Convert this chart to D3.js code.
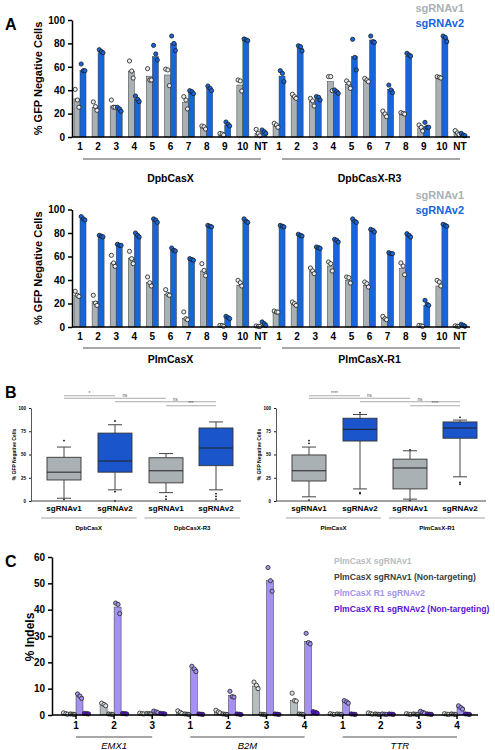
<!DOCTYPE html>
<html><head><meta charset="utf-8">
<script src="https://cdn.jsdelivr.net/npm/d3@7"></script>
<style>body{margin:0;background:#fff} text{font-family:"Liberation Sans",Arial,sans-serif;}</style>
</head><body><svg id="c" width="495" height="750"></svg>
<script>
// ---------- DATA ----------
const catsA = ["1","2","3","4","5","6","7","8","9","10","NT","1","2","3","4","5","6","7","8","9","10","NT"];
const groupsA1 = ["DpbCasX","DpbCasX-R3"];
const groupsA2 = ["PlmCasX","PlmCasX-R1"];
const seriesA = ["sgRNAv1","sgRNAv2"];
const ticksA = [0,20,40,60,80,100];

const dpbV1 = [32.5,25.4,26.5,56.4,52,53,29.3,8,2.3,44.4,3.1, 9.4,34.5,30.2,47.3,45,48.7,19.8,20.2,7.9,51,3.7];
const dpbV1Pts = [[40.7,31.6,25.4],[30,26,22.8],[31.6,25.4,25.4],[65,56.4,50.4],[58.4,48.7,48.7],[58,57.3,43.9],[34.5,31.6,24],[9.4,8.8,6.8],[3,2.6,1.7],[48.7,47.9,39.3],[6.5,3.1,1.1],
  [11.7,10.3,8.3],[36.5,34.5,33],[33,30.8,26.5],[51.6,51.6,39.6],[47.9,45.9,41.6],[50.1,48.7,47.3],[22.2,19.7,17.4],[20.8,20.2,19.6],[10.3,8.3,5.1],[51.6,51,50.4],[5.5,3.5,2.2]];
const dpbV2 = [56.7,72,23,32.2,68.7,80,37.9,41.9,10.3,82.3,3.7, 52.1,75.8,32.2,37.9,68.7,82.9,40.7,69.2,9,84.3,2];
const dpbV2Pts = [[62.4,56.7,56.7],[74.6,73,72],[25.4,24,22],[35,32.2,30.2],[78.3,71,65.8],[86.3,80,73.8],[39.6,38.7,37],[43.6,41.6,39.6],[12.8,10.8,9.4],[83.8,83,82.3],[6,4.5,3.1],
  [56.7,54.4,47.3],[78,77.2,73.5],[34.5,33.9,31.6],[40.2,38.7,37.3],[83.5,68.1,57.3],[86.3,81.5,80.9],[44.4,40.2,37.9],[71.5,70.1,69.2],[12.5,8.3,8.3],[86.3,85.2,81.5],[3.1,1.7,1.1]];

const plmV1 = [27,21.8,54.5,58.7,37.7,27.8,7.1,47.7,0.6,35.5,0.6, 12.8,19,47.7,51.9,39.7,35.5,7.1,49.6,0.6,34.9,0.6];
const plmV1Pts = [[30.4,27,26],[27,20.4,18.4],[61,54.5,51.6],[64.4,58.2,53.9],[42.6,37.7,34.9],[31.8,27.8,27],[12.8,7.1,6.2],[53.9,48.2,43.7],[1.4,1.2,0.6],[39.7,37.7,34.9],[0.9,0.6,0.4],
  [13.6,12.8,12.6],[21.3,19.9,18.4],[50.2,47.7,45.4],[55.3,53.9,47.7],[42.6,42,37.4],[38.3,36.9,34],[9.1,7.1,6.2],[54.5,51.9,44.5],[1.4,1,0.6],[39.7,38.3,34.9],[1,0.6,0.4]];
const plmV2 = [92,76.7,69.5,78,90,65.2,57.3,85.7,8,90,1.4, 85.7,78,67.5,73.8,90,82.3,62.4,78,18.4,86.5,1.4];
const plmV2Pts = [[94,92,91],[78,77.3,76.7],[70.4,69.5,69.5],[80,78,76.6],[92,91,89],[67.2,65.2,64.7],[58.2,57.3,56.8],[86.5,85.7,85.2],[9.1,8,7.1],[92,90,89],[4.3,2.8,1.4],
  [86.5,85.7,85.2],[78.9,78,77.4],[68.1,67.5,66.9],[74.6,73.8,72.3],[92,90,89],[83.1,82.3,80.9],[63.3,62.4,62.4],[79.4,78,76.6],[22.7,19.3,18.4],[87.4,86.5,85.7],[2.3,1.4,0.6]];

// Panel B box stats: [min, q1, median, q3, max]
const boxCats = ["sgRNAv1","sgRNAv2","sgRNAv1","sgRNAv2"];
const ticksB = [0,25,50,75,100];
const bLeftGroups = ["DpbCasX","DpbCasX-R3"];
const bLeftStats = [[3,22.6,31,47,58],[12,31,43,73,82],[9,19.5,32.5,46.5,51],[12,38,57,78.5,85]];
const bLeftOut = [[65,1.5],[86,10,0],[5,2],[8,5,2]];
const bLeftSig = ["*","ns","ns","***"];
const bRightGroups = ["PlmCasX","PlmCasX-R1"];
const bRightStats = [[4.5,21.5,32.5,49.5,58],[13,64.5,77,89,93],[2,13,35.5,45,54],[26,67.5,78.5,85,87]];
const bRightOut = [[62,65,1],[95,8,9],[55,0.5],[90,20,18]];
const bRightSig = ["****","ns","ns","****"];
const sigPairs = [[0,1],[0,2],[1,3],[2,3]];

// Panel C
const cTargets = ["1","2","3","1","2","3","4","1","2","3","4"];
const cGenes = ["EMX1","B2M","TTR"];
const cGeneSpans = [[0,2],[3,6],[7,10]];
const cSeries = ["PlmCasX sgRNAv1","PlmCasX sgRNAv1 (Non-targeting)","PlmCasX R1 sgRNAv2","PlmCasX R1 sgRNAv2 (Non-targeting)"];
const ticksC = [0,10,20,30,40,50,60];
const cV1 = [0.5,4,0.5,1,1.2,11,5.5,0.3,0.5,0.3,0.3];
const cV1Pts = [[0.8,0.5,0.3],[4.5,4,3.5],[0.7,0.5,0.4],[1.6,1,0.6],[1.8,1.2,0.8],[12.5,11.3,10],[8.3,5.5,5.3],[0.5,0.3,0.2],[0.8,0.5,0.3],[0.5,0.3,0.2],[0.5,0.3,0.2]];
const cV1NT = [0.3,0.3,0.5,0.3,0.3,0.2,0.3,0.3,0.3,0.3,0.3];
const cV1NTPts = [[0.4,0.3,0.2],[0.4,0.3,0.2],[0.6,0.5,0.4],[0.4,0.3,0.2],[0.4,0.3,0.2],[0.3,0.2,0.1],[0.4,0.3,0.2],[0.4,0.3,0.2],[0.4,0.3,0.2],[0.4,0.3,0.2],[0.4,0.3,0.2]];
const cV2 = [7,41,1.2,17.5,7.5,51,28,5,0.3,1,3];
const cV2Pts = [[8,7.2,6.3],[42.5,42,38.5],[1.5,1.2,0.9],[18.5,17.5,16.5],[9,7,6.8],[56,51,47],[31,27.5,27],[5.5,5,4.5],[0.4,0.3,0.2],[1.4,1,0.7],[3.5,2.8,2.2]];
const cV2NT = [0.5,0.5,0.5,0.3,0.3,0.3,1,0.3,0.3,0.3,0.3];
const cV2NTPts = [[0.6,0.5,0.4],[0.6,0.5,0.4],[0.6,0.5,0.4],[0.4,0.3,0.2],[0.4,0.3,0.2],[0.4,0.3,0.2],[1.3,1,0.7],[0.4,0.3,0.2],[0.4,0.3,0.2],[0.4,0.3,0.2],[0.4,0.3,0.2]];

// ---------- STYLE ----------
const GREY = "#a9b1b4", BLUE = "#1766d9", BOXBLUE = "#1a55cc";
const C_V1 = "#b5bdc0", C_V1NT = "#384040", C_V2 = "#a592f0", C_V2NT = "#5a14d6";
const jitter = [-1.8, 0.4, 1.9];
const svg = d3.select("#c");

function styleAxis(g, fs, sw, bold=true) {
  g.select(".domain").attr("stroke","#000").attr("stroke-width",sw);
  g.selectAll(".tick line").attr("stroke","#000").attr("stroke-width",sw);
  g.selectAll(".tick text").attr("font-size",fs).attr("font-weight",bold?"bold":"normal")
    .attr("font-family","Liberation Sans, Arial, sans-serif").attr("fill","#000");
}
function txt(x,y,s,o={}) {
  const t = svg.append("text").attr("x",x).attr("y",y).text(s)
    .attr("font-size",o.fs||10).attr("font-weight",o.fw||"bold")
    .attr("fill",o.fill||"#000").attr("text-anchor",o.anchor||"middle");
  if (o.italic) t.attr("font-style","italic");
  if (o.rot) t.attr("transform",`rotate(-90,${x},${y})`);
  return t;
}

// ---------- PANEL A ----------
const xA = d3.scalePoint().domain(d3.range(catsA.length)).range([80,460]);
function panelA(yTop, yBot, v1, v1p, v2, v2p, groups, lblY, lineY, grpY, legY) {
  const y = d3.scaleLinear().domain([0,100]).range([yBot,yTop]);
  const bw = 6;
  const series = [{v:v1,p:v1p,fill:GREY,dot:"#e9edee",off:-bw},{v:v2,p:v2p,fill:BLUE,dot:BLUE,off:0}];
  series.forEach(s=>{
    svg.append("g").selectAll("rect").data(s.v).join("rect")
      .attr("x",(d,i)=>xA(i)+s.off).attr("width",bw)
      .attr("y",d=>y(d)).attr("height",d=>yBot-y(d))
      .attr("fill",s.fill).attr("stroke","#3a3a3a").attr("stroke-width",0.5);
  });
  series.forEach(s=>{
    const pts = s.p.flatMap((arr,i)=>arr.map((v,j)=>({i,v,j})));
    svg.append("g").selectAll("circle").data(pts).join("circle")
      .attr("cx",d=>xA(d.i)+s.off+bw/2+jitter[d.j]).attr("cy",d=>y(d.v)).attr("r",2.1)
      .attr("fill",s.dot).attr("stroke","#1a1a1a").attr("stroke-width",0.8);
  });
  svg.append("line").attr("x1",72).attr("x2",470).attr("y1",yBot).attr("y2",yBot).attr("stroke","#000").attr("stroke-width",1.5);
  const ga = svg.append("g").attr("transform","translate(72,0)")
    .call(d3.axisLeft(y).tickValues(ticksA).tickSize(4).tickSizeOuter(0));
  styleAxis(ga,10,1.5);
  catsA.forEach((c,i)=>txt(xA(i),lblY,c,{fs:10}));
  [[0,10],[11,21]].forEach((sp,k)=>{
    svg.append("line").attr("x1",xA(sp[0])+3).attr("x2",xA(sp[1])).attr("y1",lineY).attr("y2",lineY)
      .attr("stroke","#8a8a8a").attr("stroke-width",1.5);
    txt((xA(sp[0])+xA(sp[1]))/2,grpY,groups[k],{fs:10.5});
  });
  txt(42,(yTop+yBot)/2,"% GFP Negative Cells",{fs:11,rot:true});
  txt(464,legY,seriesA[0],{fs:11,anchor:"end",fill:GREY});
  txt(464,legY+15,seriesA[1],{fs:11,anchor:"end",fill:BLUE});
}
panelA(20,137,dpbV1,dpbV1Pts,dpbV2,dpbV2Pts,groupsA1,150,159,182,12);
panelA(209.5,327,plmV1,plmV1Pts,plmV2,plmV2Pts,groupsA2,340,348,363,199);
txt(5,30,"A",{fs:16,anchor:"start"});

// ---------- PANEL B ----------
const yB = d3.scaleLinear().domain([0,100]).range([501,408]);
function panelB(x0, pos, stats, outs, groups, sig) {
  const bw = 34, cw = 14;
  stats.forEach((s,i)=>{
    const cx = pos[i];
    const g = svg.append("g");
    g.append("line").attr("x1",cx).attr("x2",cx).attr("y1",yB(s[0])).attr("y2",yB(s[1])).attr("stroke","#444").attr("stroke-width",1);
    g.append("line").attr("x1",cx).attr("x2",cx).attr("y1",yB(s[3])).attr("y2",yB(s[4])).attr("stroke","#444").attr("stroke-width",1);
    [s[0],s[4]].forEach(v=>g.append("line").attr("x1",cx-cw/2).attr("x2",cx+cw/2).attr("y1",yB(v)).attr("y2",yB(v)).attr("stroke","#444").attr("stroke-width",1));
    g.append("rect").attr("x",cx-bw/2).attr("width",bw).attr("y",yB(s[3])).attr("height",yB(s[1])-yB(s[3]))
      .attr("fill",i%2?BOXBLUE:GREY).attr("stroke","#333").attr("stroke-width",0.9);
    g.append("line").attr("x1",cx-bw/2).attr("x2",cx+bw/2).attr("y1",yB(s[2])).attr("y2",yB(s[2])).attr("stroke","#222").attr("stroke-width",1);
    g.selectAll("circle").data(outs[i]).join("circle").attr("cx",cx).attr("cy",d=>yB(d)).attr("r",0.9).attr("fill","#111");
  });
  svg.append("line").attr("x1",x0).attr("x2",x0+210).attr("y1",501).attr("y2",501).attr("stroke","#444").attr("stroke-width",1);
  const ga = svg.append("g").attr("transform",`translate(${x0},0)`)
    .call(d3.axisLeft(yB).tickValues(ticksB).tickSize(2).tickSizeOuter(0));
  styleAxis(ga,4.5,0.9);
  ga.select(".domain").attr("stroke","#444");
  boxCats.forEach((c,i)=>txt(pos[i],511,c,{fs:8}));
  [[0,1],[2,3]].forEach((sp,k)=>{
    const a = k===0 ? x0+10 : (pos[1]+pos[2])/2+4;
    const b = k===0 ? (pos[1]+pos[2])/2-4 : x0+209;
    svg.append("line").attr("x1",a).attr("x2",b).attr("y1",518).attr("y2",518).attr("stroke","#999").attr("stroke-width",0.9);
    txt((a+b)/2,530,groups[k],{fs:6});
  });
  txt(x0-15,(yB(0)+yB(100))/2,"% GFP Negative Cells",{fs:5,rot:true});
  const rowsY = [395.7,398.3,401.7,405.7];
  sigPairs.forEach((p,k)=>{
    svg.append("line").attr("x1",pos[p[0]]).attr("x2",pos[p[1]]).attr("y1",rowsY[k]).attr("y2",rowsY[k])
      .attr("stroke","#aaa").attr("stroke-width",1.1);
    txt((pos[p[0]]+pos[p[1]])/2 + (k===1||k===2?10:0),rowsY[k]-1.2,sig[k],{fs:4.5,fw:"normal",fill:"#555"});
  });
}
panelB(31,[64,115,166,216],bLeftStats,bLeftOut,bLeftGroups,bLeftSig);
panelB(276,[309,360,410,460],bRightStats,bRightOut,bRightGroups,bRightSig);
txt(5,398,"B",{fs:16,anchor:"start"});

// ---------- PANEL C ----------
const yC = d3.scaleLinear().domain([0,60]).range([715,557]);
const xC = d3.scalePoint().domain(d3.range(cTargets.length)).range([76,457]);
const cbw = 7;
const cSer = [
  {v:cV1,p:cV1Pts,fill:C_V1,dot:"#dfe5e6",off:-14},
  {v:cV1NT,p:cV1NTPts,fill:C_V1NT,dot:"#9aa3a4",off:-7},
  {v:cV2,p:cV2Pts,fill:C_V2,dot:C_V2,off:0},
  {v:cV2NT,p:cV2NTPts,fill:C_V2NT,dot:C_V2NT,off:7}];
cSer.forEach(s=>{
  svg.append("g").selectAll("rect").data(s.v).join("rect")
    .attr("x",(d,i)=>xC(i)+s.off).attr("width",cbw)
    .attr("y",d=>yC(d)).attr("height",d=>715-yC(d))
    .attr("fill",s.fill).attr("stroke","#3a3a3a").attr("stroke-width",0.5);
});
cSer.forEach(s=>{
  const pts = s.p.flatMap((arr,i)=>arr.map((v,j)=>({i,v,j})));
  svg.append("g").selectAll("circle").data(pts).join("circle")
    .attr("cx",d=>xC(d.i)+s.off+cbw/2+jitter[d.j]*1.1).attr("cy",d=>yC(d.v)).attr("r",2.1)
    .attr("fill",s.dot).attr("stroke","#222").attr("stroke-width",0.8);
});
svg.append("line").attr("x1",52).attr("x2",478).attr("y1",715).attr("y2",715).attr("stroke","#000").attr("stroke-width",1.5);
cTargets.forEach((c,i)=>{
  svg.append("line").attr("x1",xC(i)).attr("x2",xC(i)).attr("y1",715).attr("y2",719).attr("stroke","#000").attr("stroke-width",1.5);
  txt(xC(i),729,c,{fs:10});
});
const gc = svg.append("g").attr("transform","translate(52,0)")
  .call(d3.axisLeft(yC).tickValues(ticksC).tickSize(4).tickSizeOuter(0));
styleAxis(gc,10,1.5);
cGeneSpans.forEach((sp,k)=>{
  svg.append("line").attr("x1",xC(sp[0])).attr("x2",xC(sp[1])).attr("y1",737).attr("y2",737).attr("stroke","#8a8a8a").attr("stroke-width",1.3);
  txt((xC(sp[0])+xC(sp[1]))/2,749,cGenes[k],{fs:9.5,fw:"normal",italic:true});
});
txt(34,637,"% Indels",{fs:12,rot:true});
[C_V1,C_V1NT,C_V2,C_V2NT].forEach((col,k)=>txt(334,[564,580,596,612][k],cSeries[k],{fs:8.6,anchor:"start",fill:col}));
txt(5,567,"C",{fs:16,anchor:"start"});
</script></body></html>
